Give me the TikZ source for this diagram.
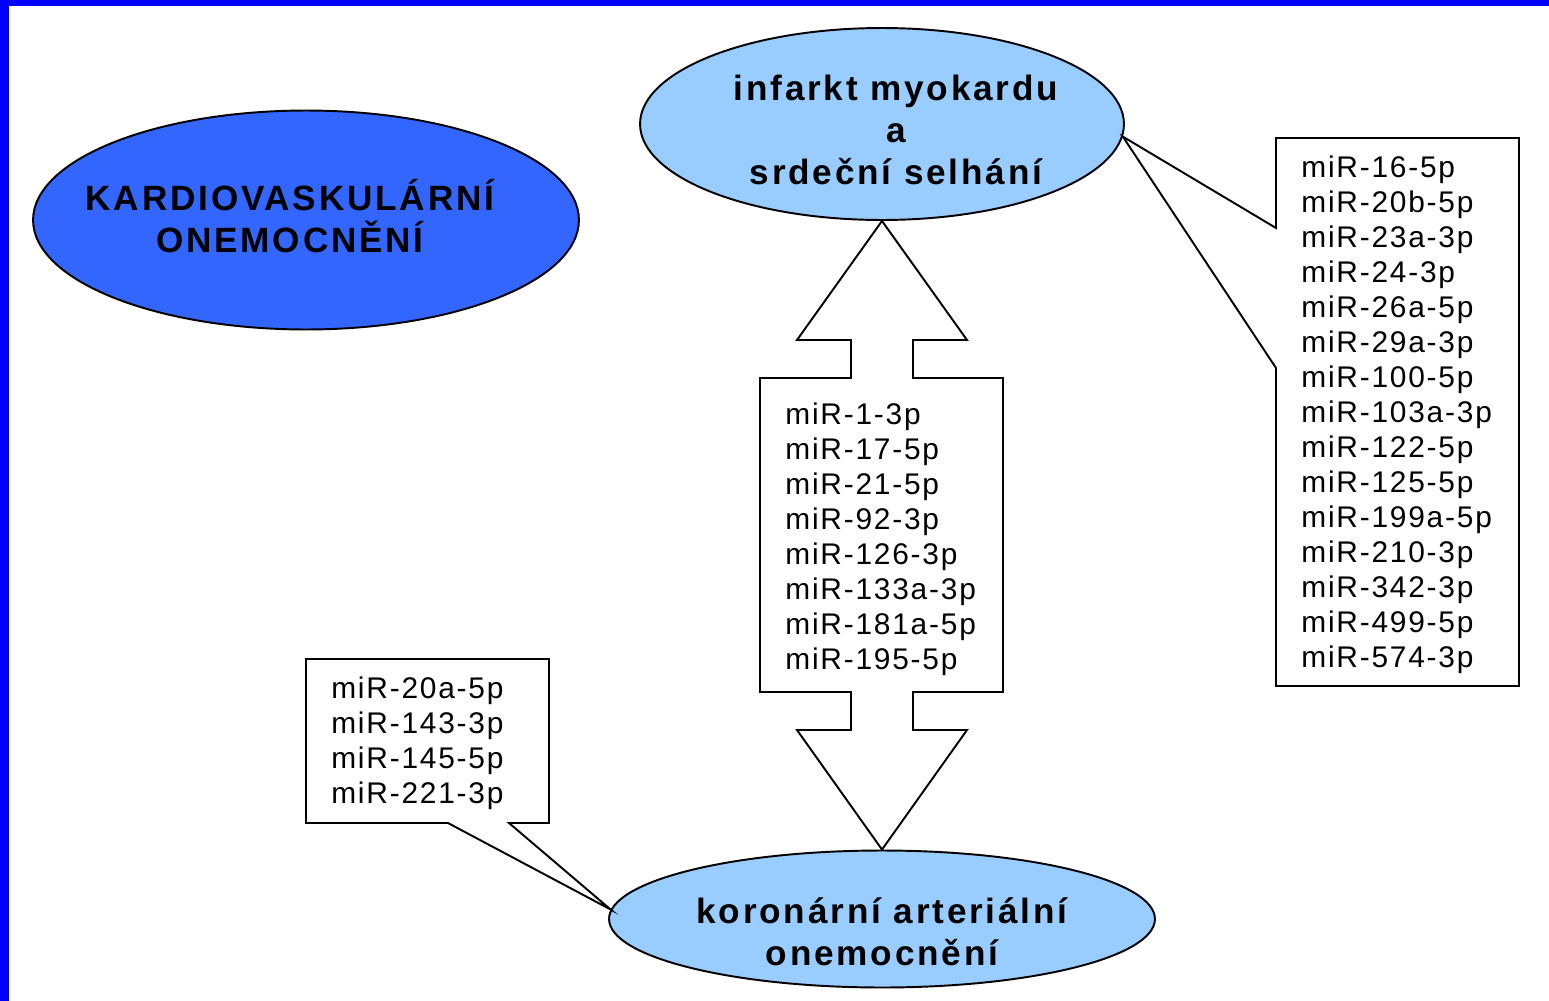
\documentclass[tikz,border=0pt]{standalone}
\usepackage{fontspec}
\setmainfont{Liberation Sans}
\usetikzlibrary{shapes.geometric}

\definecolor{frameblue}{RGB}{0,0,255}
\definecolor{cvdblue}{RGB}{51,102,255}
\definecolor{paleblue}{RGB}{153,204,255}

\begin{document}
\begin{tikzpicture}[
  x=0.02cm, y=-0.02cm,
  disease/.style={ellipse, draw=black, line width=1.1pt, inner sep=0pt},
  title/.style={align=center, font=\fontsize{20}{24}\selectfont\bfseries\addfontfeatures{LetterSpace=8}, inner sep=0pt},
  mirlist/.style={align=left, anchor=west, font=\fontsize{17}{19.92}\selectfont\addfontfeatures{LetterSpace=6}, inner sep=0pt},
  callout/.style={draw=black, line width=1.1pt, fill=white, line join=miter}
]
  % Frame
  \fill[frameblue] (0,0) rectangle (1549,1001);
  \fill[white] (9,6) rectangle (1549,1001);
  \useasboundingbox (0,0) rectangle (1549,1001);

  % Disease ellipses
  \node[disease, fill=cvdblue, minimum width=10.92cm, minimum height=4.38cm] (cvd) at (306,220) {};
  \node[disease, fill=paleblue, minimum width=9.68cm, minimum height=3.84cm] (mi) at (882,124) {};
  \node[disease, fill=paleblue, minimum width=10.92cm, minimum height=2.74cm] (cad) at (882,919) {};

  % Double arrow with shared miRNAs
  \draw[callout] (mi.south) -- (967,340) -- (913,340) -- (913,378) -- (1003,378)
    -- (1003,692) -- (913,692) -- (913,730) -- (967,730) -- (cad.north)
    -- (797,730) -- (851,730) -- (851,692) -- (760,692) -- (760,378)
    -- (851,378) -- (851,340) -- (797,340) -- cycle;

  % Callouts
  \draw[callout] (mi.-3) -- (1276,228) -- (1276,138) -- (1519,138) -- (1519,686)
    -- (1276,686) -- (1276,368) -- cycle;
  \draw[callout] (cad.178) -- (448,823) -- (306,823) -- (306,659) -- (549,659)
    -- (549,823) -- (509,823) -- cycle;

  % Texts
  \node[title] (cvdtext) at (290,216) {KARDIOVASKULÁRNÍ\\ONEMOCNĚNÍ};
  \node[title] (mitext) at (896,130) {infarkt myokardu\\a\\srdeční selhání};
  \node[title] (cadtext) at (882,932) {koronární arteriální\\onemocnění};

  \node[mirlist] (shared) at (785,539) {miR-1-3p\\miR-17-5p\\miR-21-5p\\miR-92-3p\\miR-126-3p\\miR-133a-3p\\miR-181a-5p\\miR-195-5p};
  \node[mirlist] (milist) at (1301,415) {miR-16-5p\\miR-20b-5p\\miR-23a-3p\\miR-24-3p\\miR-26a-5p\\miR-29a-3p\\miR-100-5p\\miR-103a-3p\\miR-122-5p\\miR-125-5p\\miR-199a-5p\\miR-210-3p\\miR-342-3p\\miR-499-5p\\miR-574-3p};
  \node[mirlist] (cadlist) at (331,743) {miR-20a-5p\\miR-143-3p\\miR-145-5p\\miR-221-3p};
\end{tikzpicture}
\end{document}
